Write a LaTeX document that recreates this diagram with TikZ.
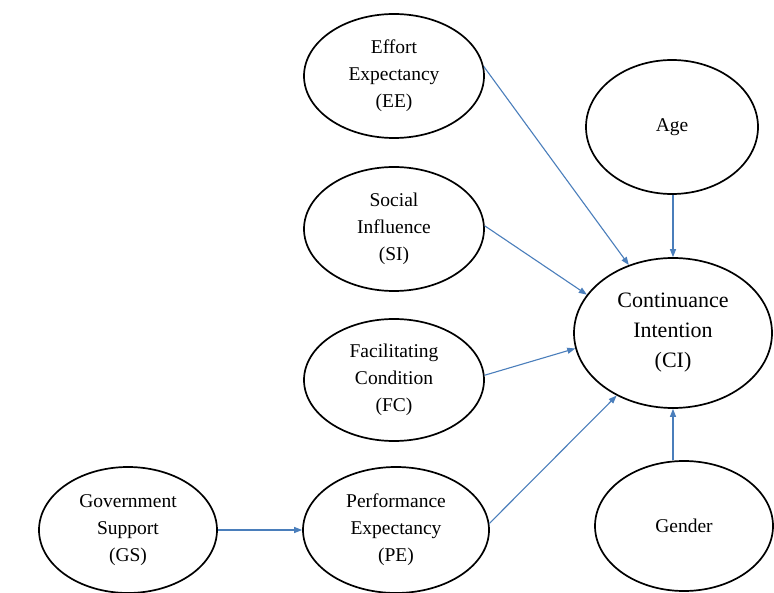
\documentclass[tikz,border=0pt]{standalone}
\usepackage{fontspec}
\setmainfont{Liberation Serif}
\usetikzlibrary{shapes.geometric,arrows.meta}
\definecolor{linkblue}{RGB}{74,126,187}
\tikzset{
  construct/.style={draw=black, line width=1.7pt, ellipse, inner sep=0pt,
    align=center, font=\fontsize{19.5}{27}\selectfont},
  arr/.style={draw=linkblue, line width=1.1pt, -{Triangle[length=8pt,width=6pt]}}
}
\begin{document}
\begin{tikzpicture}[x=1pt,y=-1pt]
  \useasboundingbox (0,0) rectangle (774,593);
  \fill[white] (0,0) rectangle (774,593);

  % constructs
  \node[construct, minimum width=180pt, minimum height=124pt] (ee) at (394,76) {Effort\\Expectancy\\(EE)};
  \node[construct, minimum width=180pt, minimum height=124pt] (si) at (394,229) {Social\\Influence\\(SI)};
  \node[construct, minimum width=180pt, minimum height=122pt] (fc) at (394,380) {Facilitating\\Condition\\(FC)};
  \node[construct, minimum width=186pt, minimum height=126pt] (pe) at (396,530) {Performance\\Expectancy\\(PE)};
  \node[construct, minimum width=178pt, minimum height=126pt] (gs) at (128,530) {Government\\Support\\(GS)};
  \node[construct, minimum width=172pt, minimum height=134pt] (age) at (672,127) {Age};
  \node[construct, minimum width=198pt, minimum height=150pt,
        font=\fontsize{22}{30}\selectfont] (ci) at (673,333) {Continuance\\Intention\\(CI)};
  \node[construct, minimum width=178pt, minimum height=130pt] (gender) at (684,526) {Gender};

  % paths
  \draw[arr] (ee.6) -- (ci.123);
  \draw[arr] (si.2) -- (ci.156);
  \draw[arr] (fc.3) -- (ci.189);
  \draw[arr] (pe.4) -- (ci.228);
  \draw[arr] (age.south -| ci.north) -- (ci.north);
  \draw[arr] (gender.north -| ci.south) -- (ci.south);
  \draw[arr] (gs.east) -- (pe.west);
\end{tikzpicture}
\end{document}
